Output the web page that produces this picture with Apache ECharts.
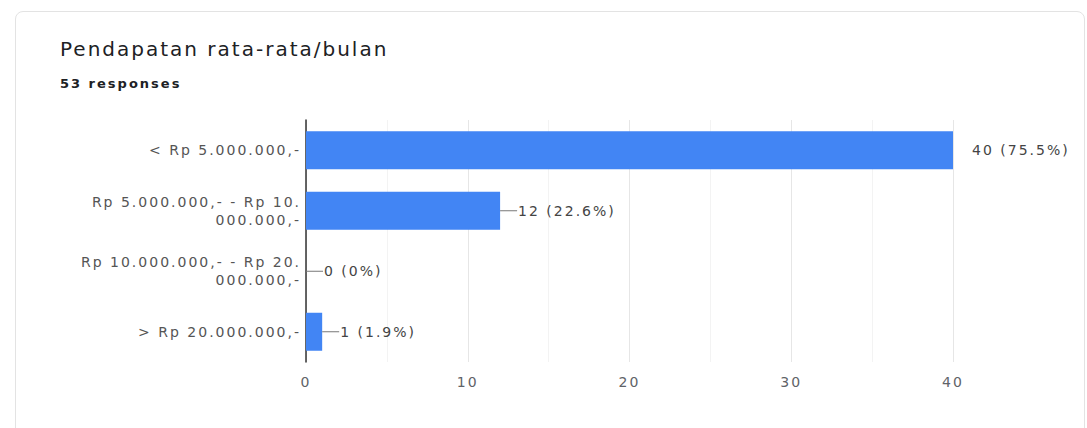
<!DOCTYPE html>
<html>
<head>
<meta charset="utf-8">
<script src="https://cdn.jsdelivr.net/npm/echarts@6/dist/echarts.min.js"></script>
<style>
  html, body { margin: 0; padding: 0; background: #fff; overflow: hidden; }
  #card { position: absolute; left: 15px; top: 11px; width: 1068px; height: 440px;
          border: 1px solid #e3e3e3; border-radius: 8px; background: #fff; }
  #chart { position: absolute; left: 0; top: 0; width: 1087px; height: 428px; }
  #chart text { letter-spacing: 2px; }
</style>
</head>
<body>
<div id="card"></div>
<div id="chart"></div>
<script>
const titleText = 'Pendapatan rata-rata/bulan';
const subtitleText = '53 responses';
const categories = [
  '< Rp 5.000.000,-',
  'Rp 5.000.000,- - Rp 10.\n000.000,-',
  'Rp 10.000.000,- - Rp 20.\n000.000,-',
  '> Rp 20.000.000,-'
];
const counts = [40, 12, 0, 1];
const percents = ['75.5%', '22.6%', '0%', '1.9%'];

const chart = echarts.init(document.getElementById('chart'), null,
  { renderer: 'svg', width: 1087, height: 428 });

const data = counts.map((v, i) => ({
  value: v,
  label: i === 0
    ? { formatter: v + ' (' + percents[i] + ')', distance: 19 }
    : { formatter: '{ln|}{t|' + v + ' (' + percents[i] + ')}', distance: 0 }
}));

const font = 'DejaVu Sans';

chart.setOption({
  animation: false,
  title: [
    { text: titleText, left: 55, top: 34,
      textStyle: { fontFamily: font, fontSize: 20, fontWeight: 'normal', color: '#202124' } },
    { text: subtitleText, left: 55, top: 72,
      textStyle: { fontFamily: font, fontSize: 13, fontWeight: 'bold', color: '#202124' } }
  ],
  grid: { left: 306, right: 134, top: 120, bottom: 66, containLabel: false },
  xAxis: {
    type: 'value', min: 0, max: 40, interval: 10,
    axisLine: { show: false }, axisTick: { show: false },
    axisLabel: { color: '#5f6368', fontSize: 14, fontFamily: font, margin: 13 },
    splitLine: { show: true, lineStyle: { color: '#e6e6e6', width: 1 } },
    minorTick: { show: false, splitNumber: 2 },
    minorSplitLine: { show: true, lineStyle: { color: '#f3f3f3', width: 1 } }
  },
  yAxis: {
    type: 'category', inverse: true, data: categories,
    axisLine: { show: true, lineStyle: { color: '#333', width: 1.5 } },
    axisTick: { show: false },
    axisLabel: { color: '#555', fontSize: 14, fontFamily: font, margin: 5,
                 align: 'right', lineHeight: 18 }
  },
  series: [{
    type: 'bar',
    data: data,
    barWidth: 38,
    itemStyle: { color: '#4285f4' },
    label: {
      show: true, position: 'right',
      color: '#444', fontSize: 14, fontFamily: font,
      rich: {
        ln: { width: 17, height: 1, backgroundColor: '#777', verticalAlign: 'middle' },
        t: { color: '#444', fontSize: 14, fontFamily: font, padding: [0, 0, 0, 1] }
      }
    }
  }]
});
</script>
</body>
</html>
